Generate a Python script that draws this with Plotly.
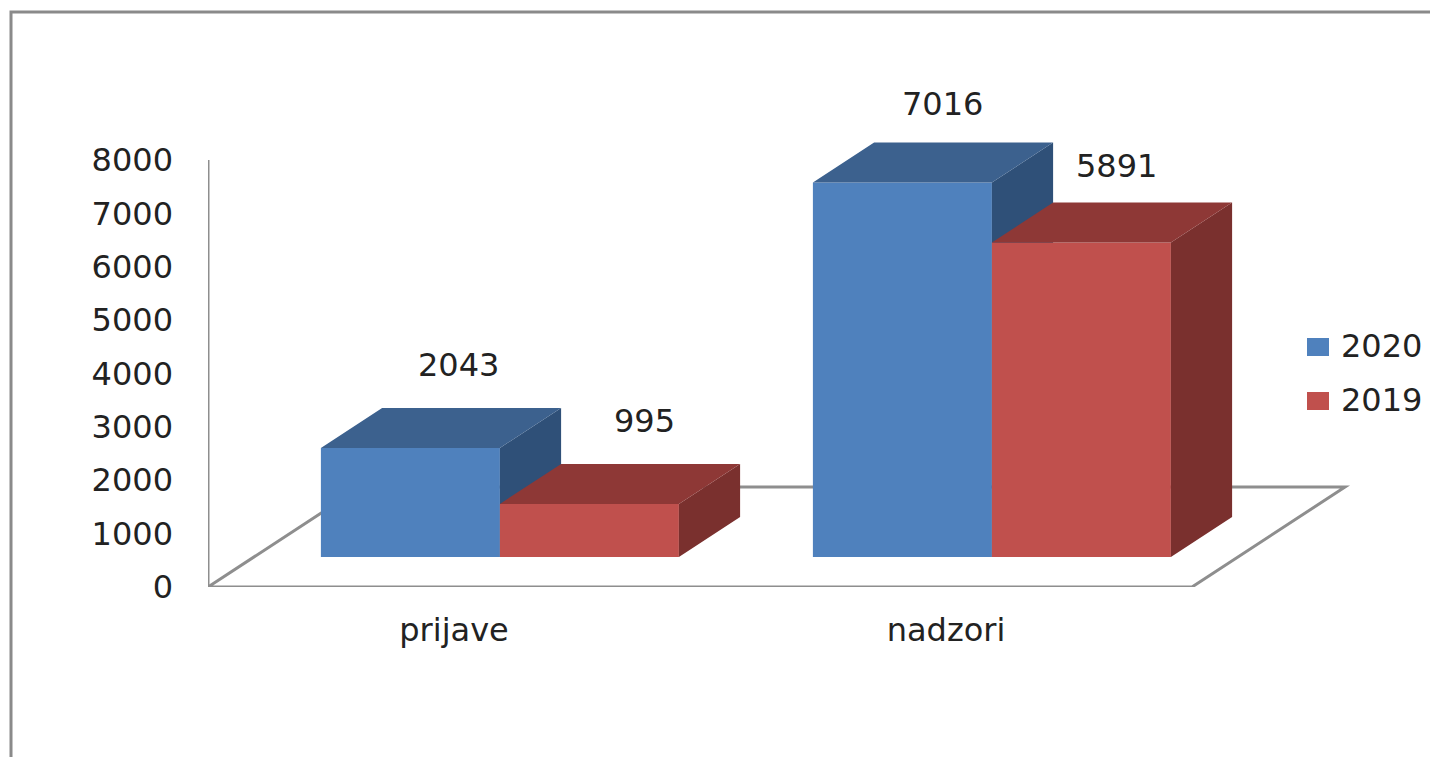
import plotly.graph_objects as go

categories = ["prijave", "nadzori"]
series_names = ["2020", "2019"]
values_2020 = [2043, 7016]
values_2019 = [995, 5891]
y_ticks = [0, 1000, 2000, 3000, 4000, 5000, 6000, 7000, 8000]

# colours (front, top, side)
BLUE = ("#4F81BD", "#3C618E", "#2F5078")
RED = ("#C0504D", "#8E3836", "#7A302E")
GREY = "#8E8E8E"
TEXT = "#222222"
FONT = "DejaVu Sans"
FS = 32

# plot-area placement in page pixels
W, H = 1430, 757
L, R, T, B = 208, 1400, 60, 587
PX_PER_X = 492.0
PX_PER_Y = 427.0 / 8000
x_max = (R - L) / PX_PER_X
y_max = (B - T) / PX_PER_Y

# pseudo-3D depth, in axis units
floor_dx = 153 / PX_PER_X
floor_dy = 100 / PX_PER_Y
front, back = 0.3, 0.7
bar_w = 179 / PX_PER_X
cat_pos = [0.5, 1.5]
group_pos = [c + front * floor_dx for c in cat_pos]
base = front * floor_dy
ddx = (back - front) * floor_dx
ddy = (back - front) * floor_dy


def faces(name, vals, offset, colors, xa, ya):
    tx, ty, sx, sy = [], [], [], []
    for g, v in zip(group_pos, vals):
        x0, x1 = g + offset, g + offset + bar_w
        top = base + v
        tx += [x0, x1, x1 + ddx, x0 + ddx, x0, None]
        ty += [top, top, top + ddy, top + ddy, top, None]
        sx += [x1, x1 + ddx, x1 + ddx, x1, x1, None]
        sy += [top, top + ddy, base + ddy, base, top, None]
    out = [go.Bar(x=group_pos, y=vals, base=base, width=bar_w, offset=offset, name=name,
                  marker=dict(color=colors[0], line=dict(width=0)), xaxis=xa, yaxis=ya,
                  showlegend=False)]
    for px, py, c in ((sx, sy, colors[2]), (tx, ty, colors[1])):
        out.append(go.Scatter(x=px, y=py, mode="lines", fill="toself", fillcolor=c,
                              line=dict(width=0, color=c), hoverinfo="skip", showlegend=False,
                              xaxis=xa, yaxis=ya))
    return out


fig = go.Figure()
for t in faces(series_names[0], values_2020, -bar_w, BLUE, "x", "y"):
    fig.add_trace(t)
for t in faces(series_names[1], values_2019, 0.0, RED, "x2", "y2"):
    fig.add_trace(t)


def px_x(p):
    return (p - L) / (R - L)


def px_y(p):
    return (B - p) / (B - T)


shapes = [
    # wall axis and floor, on the data scale
    dict(type="line", xref="x", yref="y", x0=0, x1=0, y0=0, y1=8000,
         line=dict(color=GREY, width=3), layer="below"),
    dict(type="path", xref="x", yref="y", layer="below", line=dict(color=GREY, width=3),
         path=f"M0,0 L2,0 L{2 + floor_dx},{floor_dy} L{floor_dx},{floor_dy} Z"),
    # outer picture frame
    dict(type="path", xref="paper", yref="paper", layer="below",
         line=dict(color="#8A8A8A", width=3),
         path=f"M{px_x(11)},{px_y(760)} L{px_x(11)},{px_y(12)} L{px_x(1435)},{px_y(12)}"),
    # legend swatches
    dict(type="rect", xref="paper", yref="paper", x0=px_x(1307), x1=px_x(1329),
         y0=px_y(338), y1=px_y(356), fillcolor=BLUE[0], line=dict(width=0)),
    dict(type="rect", xref="paper", yref="paper", x0=px_x(1307), x1=px_x(1329),
         y0=px_y(392), y1=px_y(410), fillcolor=RED[0], line=dict(width=0)),
]

font = dict(family=FONT, size=FS, color=TEXT)
annotations = []
label_shift = {0: [(48, 83), (40, 79)], 1: [(55, 83), (35, 77)]}
for si, (vals, off) in enumerate(((values_2020, -bar_w / 2), (values_2019, bar_w / 2))):
    for ci, v in enumerate(vals):
        dx, dy = label_shift[si][ci]
        annotations.append(dict(x=group_pos[ci] + off, y=base + v, xref="x", yref="y", text=str(v),
                                showarrow=False, xshift=dx, yshift=dy, font=font,
                                xanchor="center", yanchor="middle"))
for name, py in zip(series_names, (346, 400)):
    annotations.append(dict(x=px_x(1339), y=px_y(py), xref="paper", yref="paper", text=name,
                            showarrow=False, xanchor="left", yanchor="middle", font=font))

fig.update_layout(
    width=W, height=H, autosize=False,
    margin=dict(l=L, r=W - R, t=T, b=H - B, pad=0),
    paper_bgcolor="white", plot_bgcolor="white",
    barmode="overlay", showlegend=False,
    shapes=shapes, annotations=annotations,
    xaxis=dict(range=[0, x_max], tickmode="array", tickvals=cat_pos, ticktext=categories,
               showgrid=False, zeroline=False, showline=False, ticks="",
               ticklabelstandoff=21, tickfont=font, fixedrange=True),
    yaxis=dict(range=[0, y_max], tickmode="array", tickvals=y_ticks,
               ticktext=[str(v) for v in y_ticks],
               showgrid=False, zeroline=False, showline=False, ticks="",
               ticklabelstandoff=34, tickfont=font, fixedrange=True),
    xaxis2=dict(range=[0, x_max], overlaying="x", visible=False, fixedrange=True),
    yaxis2=dict(range=[0, y_max], overlaying="y", visible=False, fixedrange=True),
)

fig.write_html(
    "out.html",
    config=dict(displayModeBar=False),
    post_script="document.body.style.margin='0';document.documentElement.style.overflow='hidden';",
)
